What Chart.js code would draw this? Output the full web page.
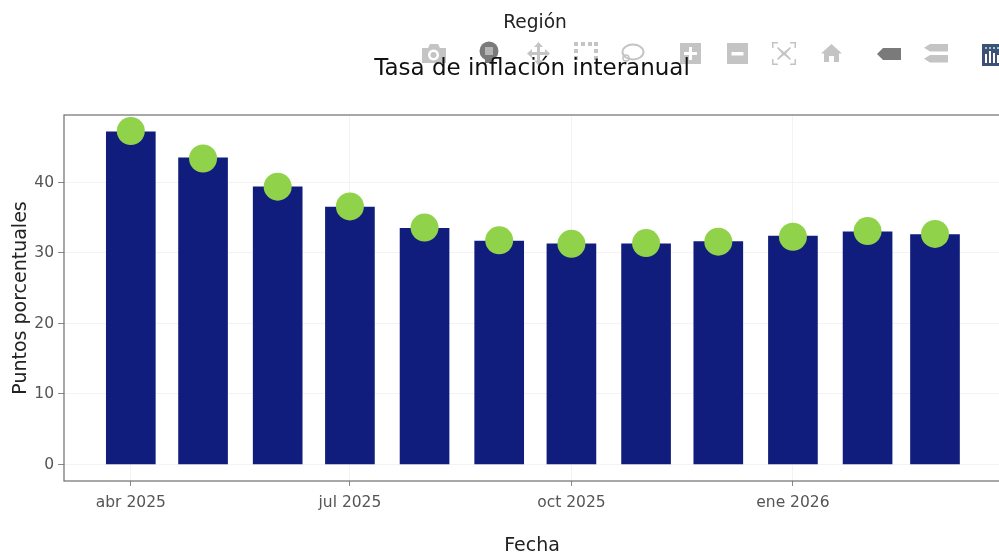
<!DOCTYPE html>
<html>
<head>
<meta charset="utf-8">
<title>Tasa de inflación interanual</title>
<script src="https://cdn.jsdelivr.net/npm/chart.js@4"></script>
<style>
  html, body { margin:0; padding:0; width:999px; height:553px; overflow:hidden; background:#fff; }
  #wrap { position:relative; width:999px; height:553px; overflow:hidden; }
  canvas { position:absolute; left:0; top:0; }
  .label { position:absolute; width:500px; text-align:center; font-family:"DejaVu Sans"; white-space:nowrap; }
  #region { left:285px; top:11px; font-size:18.600px; line-height:22px; color:#222; }
  #title { left:282px; top:53px; font-size:23px; line-height:28px; color:#111; }
  #modebar { position:absolute; left:0; top:0; }
</style>
</head>
<body>
<div id="wrap">
  <canvas id="chart" width="1064" height="560"></canvas>
  <svg id="modebar" width="999" height="90">
    <g fill="#c4c4c4">
      <!-- camera -->
      <path fill-rule="evenodd" d="M422 48h6l2-4h8l2 4h6v15h-24zM433.500 49.500a5.500 5.500 0 1 0 .01 0z"/>
      <circle cx="433.500" cy="55" r="3"/>
      <!-- zoom (active) -->
      <circle cx="489" cy="51" r="9.500" fill="#7a7a7a"/><rect x="485" y="47" width="8" height="8" fill="#b4b4b4"/>
      <rect x="485" y="59" width="8" height="4" fill="#7a7a7a"/>
      <!-- pan -->
      <path d="M538.500 42l4.500 5h-3v5h5v-3l5 4.500-5 4.500v-3h-5v5.500h3l-4.500 5-4.500-5h3v-5.500h-5v3l-5-4.500 5-4.500v3h5v-5h-3z"/>
      <!-- select box -->
      <path d="M574 42h4v4h-4zM581 42h4v4h-4zM588 42h4v4h-4zM594 42h4v4h-4zM574 49h4v4h-4zM594 49h4v4h-4zM574 56h4v4h-4zM594 56h4v4h-4z"/>
      <!-- lasso -->
      <ellipse cx="633" cy="52" rx="10.500" ry="7.500" fill="none" stroke="#c4c4c4" stroke-width="2"/>
      <circle cx="626" cy="58" r="3" fill="none" stroke="#c4c4c4" stroke-width="1.500"/>
      <path d="M626 61c1 2 0 3-1 4" fill="none" stroke="#c4c4c4" stroke-width="1.500"/>
      <!-- zoom in -->
      <path fill-rule="evenodd" d="M680 43h21v21h-21zM689 47v5h-5v3h5v5h3v-5h5v-3h-5v-5z"/>
      <!-- zoom out -->
      <path fill-rule="evenodd" d="M727 43h21v21h-21zM731.500 52v3.500h12v-3.500z"/>
      <!-- autoscale -->
      <path d="M772 42h6v1.500h-4.500v4.500h-1.500zM790 42h6v6h-1.500v-4.500h-4.500zM772 59h1.500v4.500h4.500v1.500h-6zM794.500 59h1.500v6h-6v-1.500h4.500z"/>
      <path d="M778 47l6 5 6-5 1 1-5 5.500 5 5.500-1 1-6-5-6 5-1-1 5-5.500-5-5.500z"/>
      <!-- home -->
      <path d="M831.500 44l10.500 9.500h-3v8.500h-5v-6h-5v6h-5v-8.500h-3z"/>
      <!-- hover closest -->
      <path d="M877 54l6-6h18v12h-18z" fill="#7a7a7a"/>
      <!-- hover compare -->
      <path d="M930 44h18v7.500h-18l-6-3.750zM930 55h18v7.500h-18l-6-3.750z"/>
    </g>
    <!-- brand logo -->
    <rect x="982" y="44" width="17" height="22" fill="#3f4f75"/>
    <path d="M985 54h2v9h-2zM989 51h2v12h-2zM993 53h2v10h-2zM997 55h2v8h-2z" fill="#fff"/>
    <path d="M985 47h2v2h-2zM989 47h2v2h-2zM993 47h2v2h-2zM997 47h2v2h-2z" fill="#8fd0c8"/>
  </svg>
  <div id="region" class="label">Región</div>
  <div id="title" class="label">Tasa de inflación interanual</div>
</div>
<script>
// ===== Dados =====
const dates = ['2025-04-01','2025-05-01','2025-06-01','2025-07-01','2025-08-01','2025-09-01',
               '2025-10-01','2025-11-01','2025-12-01','2026-01-01','2026-02-01','2026-03-01'];
const barValues = [47.2,43.5,39.4,36.5,33.5,31.7,31.3,31.3,31.6,32.4,33.0,32.6];
const pointValues = [47.3,43.4,39.4,36.6,33.6,31.8,31.3,31.4,31.6,32.3,33.1,32.7];
const tickDates = ['2025-04-01','2025-07-01','2025-10-01','2026-01-01'];
const tickLabels = ['abr 2025','jul 2025','oct 2025','ene 2026'];
const yTicks = [0,10,20,30,40];
const xRange = ['2025-03-04T06:00:00Z','2026-03-28T00:00:00Z'];
const yRange = [-2.34,49.57];

const FONT = '"DejaVu Sans"';
const toDay = s => Date.parse(s) / 86400000;

// marco do plot
const frame = {
  id:'frame',
  beforeDatasetsDraw(c){
    const a = c.chartArea, g = c.ctx;
    g.save();
    g.strokeStyle = '#6e6e6e';
    g.lineWidth = 1.2;
    g.strokeRect(a.left, a.top, a.right-a.left, a.bottom-a.top);
    g.restore();
  }
};

new Chart(document.getElementById('chart').getContext('2d'), {
  data: {
    datasets: [
      { type:'scatter', label:'Región', order:1,
        data: dates.map((d,i)=>({x:toDay(d), y:pointValues[i]})),
        backgroundColor:'#90d34b', borderWidth:0, pointRadius:14, pointHoverRadius:14, clip:false },
      { type:'bar', label:'Tasa', order:2,
        data: dates.map((d,i)=>({x:toDay(d), y:barValues[i]})),
        backgroundColor:'#111d7c', borderWidth:0, barThickness:49 }
    ]
  },
  options: {
    responsive:false,
    animation:false,
    devicePixelRatio:1,
    layout:{ padding:{ left:0, right:64, top:115, bottom:0 } },
    plugins:{ legend:{ display:false }, tooltip:{ enabled:false }, title:{ display:false } },
    scales:{
      x:{
        type:'linear', min:toDay(xRange[0]), max:toDay(xRange[1]), offset:false,
        afterBuildTicks(ax){ ax.ticks = tickDates.map(d=>({value:toDay(d)})); },
        grid:{ color:'#f3f3f3', tickColor:'#8a8a8a', tickLength:5, offset:false },
        border:{ display:false },
        ticks:{ color:'#555', font:{ family:FONT, size:15.500 }, padding:8, maxRotation:0, autoSkip:false,
                callback(v){ const i = tickDates.findIndex(d=>toDay(d)===v); return i<0?'':tickLabels[i]; } },
        title:{ display:true, text:'Fecha', color:'#222', font:{ family:FONT, size:19 }, padding:{ top:20, bottom:2.600 } },
        afterFit(ax){ ax.height = 79; }
      },
      y:{
        type:'linear', min:yRange[0], max:yRange[1],
        afterBuildTicks(ax){ ax.ticks = yTicks.map(v=>({value:v})); },
        grid:{ color:'#f3f3f3', tickColor:'#8a8a8a', tickLength:6 },
        border:{ display:false },
        ticks:{ color:'#555', font:{ family:FONT, size:15.500 }, padding:4 },
        title:{ display:true, text:'Puntos porcentuales', color:'#222', font:{ family:FONT, size:19 }, padding:{ top:10, bottom:0 } },
        afterFit(ax){ ax.width = 64; }
      }
    }
  },
  plugins:[frame]
});
</script>
</body>
</html>
